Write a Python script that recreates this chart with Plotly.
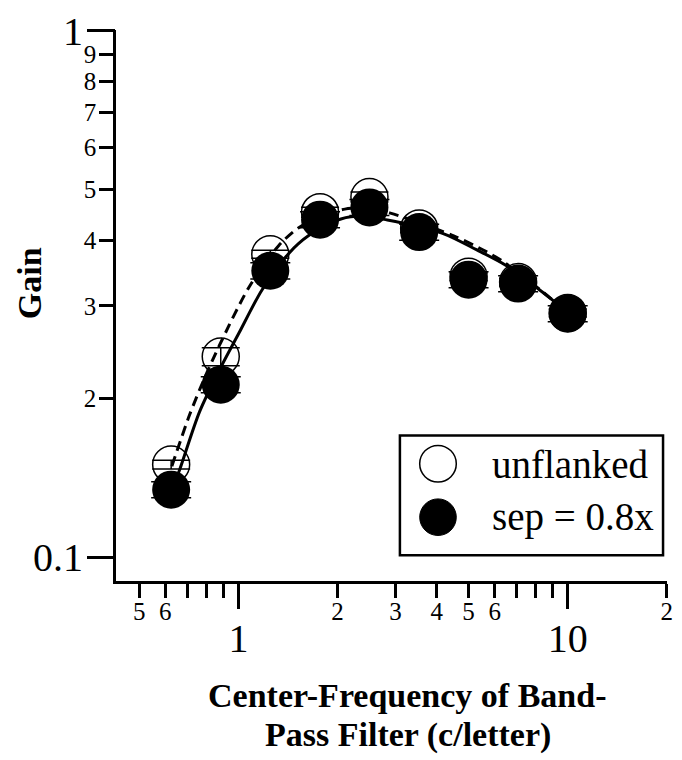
import math
import plotly.graph_objects as go

# Center frequency of the band-pass filter (cycles per letter)
freq = [0.625, 0.884, 1.25, 1.77, 2.5, 3.54, 5.0, 7.07, 10.0]

# Gain, unflanked letters (open symbols) and flanked at 0.8x spacing (filled)
gain_unflanked = [0.150, 0.2405, 0.376, 0.452, 0.483, 0.421, 0.341, 0.333, 0.291]
err_unflanked = [0.0029, 0.0095, 0.0066, 0.0099, 0.0106, 0.0074, 0.0060, 0.0058, 0.0051]
gain_flanked = [0.1344, 0.2127, 0.350, 0.4375, 0.4616, 0.4143, 0.3366, 0.3308, 0.2901]
err_flanked = [0.0047, 0.0075, 0.0123, 0.0154, 0.0162, 0.0146, 0.0118, 0.0116, 0.0102]

# Fitted curves (dashed: unflanked, solid: flanked)
fit_unflanked_x = [0.628, 0.711, 0.789, 0.875, 1.077, 1.325, 1.521, 1.771, 2.106,
                   2.503, 2.894, 3.488, 4.506, 5.661, 6.367, 7.211, 8.279, 9.98]
fit_unflanked_y = [0.1489, 0.1864, 0.2187, 0.2522, 0.3256, 0.3905, 0.4220, 0.4426, 0.4581,
                   0.4601, 0.4502, 0.4330, 0.4077, 0.3804, 0.3642, 0.3429, 0.3214, 0.2910]
fit_flanked_x = [0.628, 0.664, 0.762, 0.881, 1.005, 1.178, 1.420, 1.631, 2.048,
                 2.385, 2.835, 3.146, 4.205, 5.282, 6.501, 8.166, 8.997, 9.98]
fit_flanked_y = [0.1336, 0.1469, 0.1888, 0.2284, 0.2668, 0.3214, 0.3771, 0.4077, 0.4387,
                 0.4444, 0.4368, 0.4311, 0.4112, 0.3837, 0.3581, 0.3228, 0.3078, 0.2910]

# Axis tick labelling
x_minor_vals = [0.5, 0.6, 0.7, 0.8, 0.9, 2, 3, 4, 5, 6, 7, 8, 9, 20]
x_minor_text = ["5", "6", "", "", "", "2", "3", "4", "5", "6", "", "", "", "2"]
x_major_vals = [1, 10]
x_major_text = ["1", "10"]
y_minor_vals = [0.2, 0.3, 0.4, 0.5, 0.6, 0.7, 0.8, 0.9]
y_minor_text = ["2", "3", "4", "5", "6", "7", "8", "9"]
y_major_vals = [0.1, 1]
y_major_text = ["0.1", "1"]

legend_labels = ["unflanked", "sep = 0.8x"]

SERIF = "Liberation Serif"
W, H = 682, 760
ML, MR, MT, MB = 116, 9, 24, 179
PW, PH = W - ML - MR, H - MT - MB

XRANGE = [math.log10(0.425), 1.3015]
YRANGE = [-1.045, 0.001]


def px(x):
    return (x - ML) / PW


def py(y):
    return (H - MB - y) / PH


fig = go.Figure()

fig.add_trace(go.Scatter(
    x=freq, y=gain_unflanked, mode="markers",
    marker=dict(size=37, color="rgba(0,0,0,0)", line=dict(color="black", width=1.5)),
    error_y=dict(type="data", array=err_unflanked, color="black", thickness=1.5, width=19),
    showlegend=False, hoverinfo="skip",
))
fig.add_trace(go.Scatter(
    x=freq, y=gain_flanked, mode="markers",
    marker=dict(size=38, color="black", line=dict(width=0)),
    error_y=dict(type="data", array=err_flanked, color="black", thickness=1.5, width=20),
    showlegend=False, hoverinfo="skip",
))
fig.add_trace(go.Scatter(
    x=fit_unflanked_x, y=fit_unflanked_y, mode="lines",
    line=dict(color="black", width=3, dash="10px,6px", shape="spline", smoothing=0.8),
    showlegend=False, hoverinfo="skip",
))
fig.add_trace(go.Scatter(
    x=fit_flanked_x, y=fit_flanked_y, mode="lines",
    line=dict(color="black", width=3, shape="spline", smoothing=0.8),
    showlegend=False, hoverinfo="skip",
))

axis_common = dict(type="log", showgrid=False, zeroline=False, ticks="outside",
                   tickcolor="black", tickwidth=2.5, tickmode="array")

fig.update_layout(
    width=W, height=H,
    margin=dict(l=ML, r=MR, t=MT, b=MB),
    paper_bgcolor="white", plot_bgcolor="white",
    font=dict(family=SERIF, color="black"),
    xaxis=dict(**axis_common, range=XRANGE, tickvals=x_minor_vals, ticktext=x_minor_text,
               ticklen=14, tickfont=dict(size=25, family=SERIF, color="black"),
               showline=True, linecolor="black", linewidth=2.5, ticklabelstandoff=-8),
    xaxis2=dict(**axis_common, range=XRANGE, tickvals=x_major_vals, ticktext=x_major_text,
                ticklen=27, tickfont=dict(size=40, family=SERIF, color="black"),
                overlaying="x", anchor="y", side="bottom", showline=False,
                ticklabelstandoff=-5),
    yaxis=dict(**axis_common, range=YRANGE, tickvals=y_minor_vals, ticktext=y_minor_text,
               ticklen=14, tickfont=dict(size=25, family=SERIF, color="black"),
               showline=True, linecolor="black", linewidth=2.5, ticklabelstandoff=-2),
    yaxis2=dict(**axis_common, range=YRANGE, tickvals=y_major_vals, ticktext=y_major_text,
                ticklen=28, tickfont=dict(size=40, family=SERIF, color="black"),
                overlaying="y", anchor="x", side="left", showline=False,
                ticklabelstandoff=-4),
)

# Invisible traces binding the overlaid major-tick axes
fig.add_trace(go.Scatter(x=[1], y=[0.5], xaxis="x2", yaxis="y", mode="markers",
                         marker=dict(opacity=0), showlegend=False, hoverinfo="skip"))
fig.add_trace(go.Scatter(x=[1], y=[0.5], xaxis="x", yaxis="y2", mode="markers",
                         marker=dict(opacity=0), showlegend=False, hoverinfo="skip"))

# Axis titles
fig.add_annotation(text="<b>Gain</b>", xref="paper", yref="paper", x=px(28), y=py(280),
                   xanchor="center", yanchor="middle",
                   textangle=-90, showarrow=False, font=dict(size=34, family=SERIF))
fig.add_annotation(text="<b>Center-Frequency of Band-</b>", xref="paper", yref="paper",
                   x=px(411), y=py(697), xanchor="center", yanchor="middle",
                   showarrow=False, font=dict(size=34, family=SERIF))
fig.add_annotation(text="<b>Pass Filter (c/letter)</b>", xref="paper", yref="paper",
                   x=px(411), y=py(737), xanchor="center", yanchor="middle",
                   showarrow=False, font=dict(size=34, family=SERIF))

# Legend box with symbols and labels
fig.add_shape(type="rect", xref="paper", yref="paper", x0=px(403), x1=px(669),
              y0=py(555), y1=py(434), line=dict(color="black", width=2.5), fillcolor="white",
              layer="above")
fig.add_shape(type="circle", xref="paper", yref="paper", x0=px(423), x1=px(460),
              y0=py(481), y1=py(444), line=dict(color="black", width=1.5), fillcolor="white",
              layer="above")
fig.add_shape(type="circle", xref="paper", yref="paper", x0=px(423), x1=px(460),
              y0=py(535), y1=py(498), line=dict(color="black", width=1), fillcolor="black",
              layer="above")
for label, yc in zip(legend_labels, [463, 516]):
    fig.add_annotation(text=label, xref="paper", yref="paper", x=px(494), y=py(yc),
                       xanchor="left", yanchor="middle", showarrow=False,
                       font=dict(size=39, family=SERIF))

fig.write_html("out.html")
